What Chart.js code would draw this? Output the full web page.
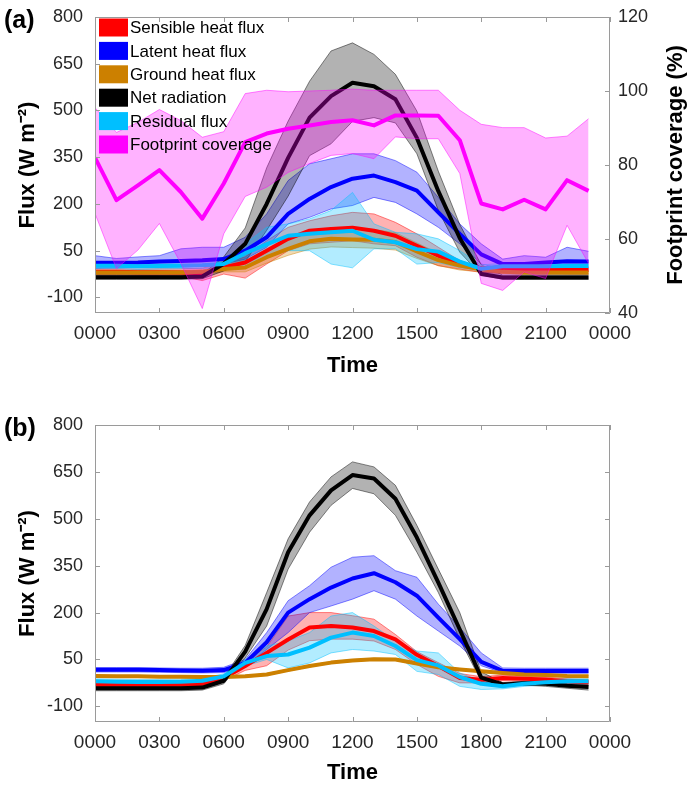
<!DOCTYPE html>
<html>
<head>
<meta charset="utf-8">
<script src="https://cdn.jsdelivr.net/npm/chart.js@4.4.1/dist/chart.umd.min.js"></script>
<style>
  body { margin: 0; background: #fff; }
  #wrap { position: relative; width: 689px; height: 786px; font-family: Arial, "Liberation Sans", sans-serif; }
  canvas { position: absolute; left: 0; }
  #chartA { top: 0; }
  #chartB { top: 400px; }
  .tag { position: absolute; left: 4px; font-weight: bold; font-size: 25px; line-height: 25px; color: #000; }
</style>
</head>
<body>
<div id="wrap">
  <canvas id="chartA" width="689" height="400"></canvas>
  <canvas id="chartB" width="689" height="386"></canvas>
  <div class="tag" style="top:7px">(a)</div>
  <div class="tag" style="top:415px">(b)</div>
</div>
<script>
// one sample per hour
const hours = [0,1,2,3,4,5,6,7,8,9,10,11,12,13,14,15,16,17,18,19,20,21,22,23];
const timeTicks = [0,3,6,9,12,15,18,21,24];
const timeLabels = ['0000','0300','0600','0900','1200','1500','1800','2100','0000'];
const fluxTicks = [-100,50,200,350,500,650,800];
const coverTicks = [40,60,80,100,120];

const seriesNames = ['Sensible heat flux','Latent heat flux','Ground heat flux','Net radiation','Residual flux','Footprint coverage'];
const fluxTitle = 'Flux (W m\u207B\u00B2)';
const coverTitle = 'Footprint coverage (%)';

// (a) mean with lower / upper envelope
const sensA     = [-18,-18,-19,-19,-20,-22,-4,12,50,88,114,120,124,114,98,66,34,7,-6,-9,-10,-10,-12,-12];
const sensALow  = [-28,-28,-29,-30,-32,-46,-25,-38,7,50,72,77,82,72,66,29,2,-9,-20,-22,-22,-22,-24,-24];
const sensAHigh = [-8,-8,-9,-8,-8,-6,10,30,82,125,146,162,173,168,141,104,61,18,-4,2,0,0,-2,-2];

const latA      = [11,11,12,15,17,19,23,50,93,168,216,254,281,291,270,243,173,104,38,7,7,12,16,15];
const latALow   = [-6,-5,-4,-3,-2,0,7,23,61,136,157,184,195,221,205,168,125,72,7,-9,-9,-4,-4,-4];
const latAHigh  = [34,25,30,34,56,61,61,93,168,275,329,345,361,361,339,302,221,136,72,23,34,29,61,48];

const grndA     = [-20,-20,-20,-20,-20,-18,-9,-4,29,56,80,88,86,85,78,48,20,2,-10,-18,-20,-20,-20,-20];
const grndALow  = [-26,-26,-26,-26,-26,-25,-18,-18,10,35,55,62,60,58,52,25,2,-12,-18,-24,-26,-26,-26,-26];
const grndAHigh = [-14,-14,-14,-14,-14,-12,0,10,50,85,110,120,122,118,108,75,42,18,-2,-12,-14,-14,-14,-14];

const netA      = [-35,-35,-35,-35,-35,-33,8,72,200,348,477,546,589,578,536,412,241,90,-25,-36,-36,-36,-36,-36];
const netALow   = [-42,-42,-42,-42,-42,-40,-15,15,115,225,355,393,465,477,460,361,179,45,-28,-42,-42,-42,-42,-42];
const netAHigh  = [-28,-28,-28,-28,-28,-25,30,123,316,466,594,691,717,680,616,498,305,134,5,-28,-28,-28,-28,-28];

const resA      = [2,2,0,1,2,3,7,42,70,98,104,109,114,85,77,55,47,15,-8,0,0,0,1,1];
const resALow   = [-8,-8,-10,-9,-8,-7,-4,-4,29,50,50,7,-5,56,56,7,12,-4,-15,-10,-10,-10,-9,-9];
const resAHigh  = [12,12,10,11,12,13,20,72,125,136,152,179,237,136,109,104,88,50,4,10,10,10,11,11];

const coverA     = [82,70.5,74.5,78.6,72.7,65.5,75,86.2,88.5,89.8,90.7,91.6,92.1,90.7,93.4,93.4,93.3,86.7,69.6,68,70.6,68,75.9,73];
const coverALow  = [66.9,52,57,64.2,53.4,41.2,61.4,71.5,74,78,80.4,82.6,83.1,81.7,87.6,87.1,87.1,77.7,48,46.1,51.1,49.3,63.7,53.4];
const coverAHigh = [95.5,88.8,91.5,95,92,87.5,89,99.3,100.2,99.8,100,100.2,100.5,100.2,100.2,100.2,100.2,94.8,91,90.1,90.1,87.3,87.8,92.5];

// (b)
const sensB     = [-30,-30,-30,-30,-30,-28,-9,29,71,114,152,157,152,141,114,65,29,-9,-15,-9,-12,-14,-20,-23];
const sensBLow  = [-38,-38,-38,-38,-38,-36,-18,15,30,80,110,115,115,109,82,34,-4,-25,-25,-18,-20,-22,-28,-31];
const sensBHigh = [-22,-22,-22,-22,-22,-20,0,45,90,189,200,200,190,179,130,75,40,5,-5,0,-4,-6,-12,-15];

const latB      = [17,17,17,16,15,14,16,39,105,200,243,280,309,326,297,254,184,115,42,14,13,13,13,13];
const latBLow   = [10,10,10,9,8,7,8,30,82,136,200,221,243,270,243,189,141,93,30,7,6,6,6,6];
const latBHigh  = [24,24,24,23,22,22,25,50,136,238,286,345,377,382,334,313,227,152,71,23,22,22,22,22];

const grndB     = [-3,-4,-4,-5,-5,-6,-6,-4,2,16,29,40,47,51,50,37,25,18,12,7,2,0,-3,-4];
const grndBLow  = [-6,-7,-7,-8,-8,-9,-9,-7,-1,13,26,37,44,48,47,34,22,15,9,4,-1,-3,-6,-7];
const grndBHigh = [0,-1,-1,-2,-2,-3,-3,-1,5,19,32,43,50,54,53,40,28,21,15,10,5,3,0,-1];

const netB      = [-42,-42,-42,-42,-42,-40,-18,75,211,393,511,591,640,629,564,440,296,146,-8,-30,-26,-28,-34,-38];
const netBLow   = [-50,-50,-50,-50,-50,-48,-28,55,157,339,457,543,597,580,511,393,264,114,-20,-36,-32,-36,-42,-48];
const netBHigh  = [-35,-35,-35,-35,-35,-32,-8,95,264,436,554,634,682,666,607,479,339,200,10,-24,-20,-22,-26,-28];

const resB      = [-20,-21,-22,-22,-21,-18,-4,39,61,66,88,120,136,125,93,48,31,-6,-28,-36,-28,-23,-20,-20];
const resBLow   = [-28,-29,-30,-30,-29,-26,-12,29,50,23,39,71,82,77,66,12,2,-36,-46,-44,-36,-31,-28,-28];
const resBHigh  = [-12,-13,-14,-14,-13,-10,4,50,93,109,136,189,200,157,109,77,71,7,-20,-28,-20,-15,-12,-12];

const RED = [255,0,0], BLUE = [0,0,255], ORANGE = [204,128,0], BLACK = [0,0,0], CYAN = [0,191,255], MAGENTA = [255,0,255];
const FONT = 'Arial, "Liberation Sans", Helvetica, sans-serif';
const TICK_COLOR = '#262626';
const BOX_COLOR = '#9a9a9a';

Chart.defaults.font.family = FONT;

const rgba = (c, a) => `rgba(${c[0]},${c[1]},${c[2]},${a})`;
const pts = arr => arr.map((v, i) => ({x: hours[i], y: v}));

// envelopes go under every mean line; "layer" lifts a whole group
// (right-axis series) above the rest. Lower "order" is drawn later.
let bandOrder = 0, lineOrder = -100;
function series(name, mean, low, high, col, axis, layer = 0) {
  const edge = {borderColor: rgba(col, 0.6), borderWidth: 0.8, pointRadius: 0, tension: 0, yAxisID: axis, fill: false};
  return [
    Object.assign({}, edge, {data: pts(low), order: layer + bandOrder--}),
    Object.assign({}, edge, {data: pts(high), fill: '-1', backgroundColor: rgba(col, 0.3), order: layer + bandOrder--}),
    {label: name, data: pts(mean), borderColor: rgba(col, 1), borderWidth: 4, borderJoinStyle: 'round',
     pointRadius: 0, tension: 0, yAxisID: axis, fill: false, order: layer + lineOrder--}
  ];
}

const setTicks = list => scale => { scale.ticks = list.map(v => ({value: v})); };

// box round the plot with short inward ticks on every side
const frame = {
  id: 'frame',
  afterDatasetsDraw(chart) {
    const {ctx, chartArea: a, scales} = chart;
    const len = 5;
    const right = scales.y1 || scales.y;
    ctx.save();
    ctx.strokeStyle = BOX_COLOR;
    ctx.lineWidth = 1;
    ctx.beginPath();
    scales.x.ticks.forEach(t => {
      const px = Math.round(scales.x.getPixelForValue(t.value)) + 0.5;
      ctx.moveTo(px, a.top); ctx.lineTo(px, a.top + len);
      ctx.moveTo(px, a.bottom); ctx.lineTo(px, a.bottom - len);
    });
    scales.y.ticks.forEach(t => {
      const py = Math.round(scales.y.getPixelForValue(t.value)) + 0.5;
      ctx.moveTo(a.left, py); ctx.lineTo(a.left + len, py);
    });
    right.ticks.forEach(t => {
      const py = Math.round(right.getPixelForValue(t.value)) + 0.5;
      ctx.moveTo(a.right, py); ctx.lineTo(a.right - len, py);
    });
    ctx.rect(a.left + 0.5, a.top + 0.5, a.right - a.left - 1, a.bottom - a.top - 1);
    ctx.stroke();
    ctx.restore();
  }
};

// colour patches + names in the upper left corner of the plot
const patchLegend = {
  id: 'patchLegend',
  afterDatasetsDraw(chart) {
    const {ctx, chartArea: a} = chart;
    const items = chart.data.datasets.filter(d => d.label);
    ctx.save();
    ctx.font = '17px ' + FONT;
    ctx.textBaseline = 'middle';
    items.forEach((d, i) => {
      const y = a.top + 10.5 + i * 23.4;
      ctx.fillStyle = d.borderColor;
      ctx.fillRect(a.left + 4, y - 9, 29, 18);
      ctx.fillStyle = '#000';
      ctx.fillText(d.label, a.left + 35, y + 1);
    });
    ctx.restore();
  }
};

// right axis title reads bottom-to-top
const rightTitle = {
  id: 'rightTitle',
  afterDraw(chart) {
    const {ctx, chartArea: a} = chart;
    ctx.save();
    ctx.translate(a.right + 66, (a.top + a.bottom) / 2);
    ctx.rotate(-Math.PI / 2);
    ctx.font = 'bold 22px ' + FONT;
    ctx.textAlign = 'center';
    ctx.textBaseline = 'middle';
    ctx.fillStyle = '#000';
    ctx.fillText(coverTitle, 0, 0);
    ctx.restore();
  }
};

// fixed axis sizes so the plot box lands where it should
const fixWidth = w => s => { s.width = w; s.paddingTop = 0; s.paddingBottom = 0; };
const fixHeight = h => s => { s.height = h; s.paddingLeft = 0; s.paddingRight = 0; };

function xScale(axisHeight, titlePad) {
  return {
    type: 'linear', min: 0, max: 24,
    afterBuildTicks: setTicks(timeTicks),
    afterFit: fixHeight(axisHeight),
    ticks: {callback: (v, i) => timeLabels[i], font: {size: 19}, color: TICK_COLOR, padding: 9, maxRotation: 0, autoSkip: false},
    grid: {display: false, drawTicks: false},
    border: {display: false},
    title: {display: true, text: 'Time', color: '#000', font: {size: 22, weight: 'bold'}, padding: {top: 0, bottom: titlePad}}
  };
}

function fluxScale() {
  return {
    type: 'linear', position: 'left', min: -150, max: 800,
    afterBuildTicks: setTicks(fluxTicks),
    afterFit: fixWidth(95),
    ticks: {font: {size: 18}, color: TICK_COLOR, padding: 12},
    grid: {display: false, drawTicks: false},
    border: {display: false},
    title: {display: true, text: fluxTitle, color: '#000', font: {size: 22, weight: 'bold'}, padding: {top: 15, bottom: 0}}
  };
}

const baseOptions = {
  responsive: false,
  animation: false,
  devicePixelRatio: 1,
  plugins: {legend: {display: false}, tooltip: {enabled: false}}
};

// panel (a)
bandOrder = 0; lineOrder = -100;
const dataA = [].concat(
  series(seriesNames[0], sensA, sensALow, sensAHigh, RED, 'y'),
  series(seriesNames[1], latA, latALow, latAHigh, BLUE, 'y'),
  series(seriesNames[2], grndA, grndALow, grndAHigh, ORANGE, 'y'),
  series(seriesNames[3], netA, netALow, netAHigh, BLACK, 'y'),
  series(seriesNames[4], resA, resALow, resAHigh, CYAN, 'y'),
  series(seriesNames[5], coverA, coverALow, coverAHigh, MAGENTA, 'y1', -1000)
);

new Chart(document.getElementById('chartA'), {
  type: 'line',
  data: {datasets: dataA},
  options: Object.assign({}, baseOptions, {
    layout: {padding: {top: 17, left: 0, right: 0, bottom: 0}},
    scales: {
      x: xScale(87, 21),
      y: fluxScale(),
      y1: {
        type: 'linear', position: 'right', min: 40, max: 120,
        afterBuildTicks: setTicks(coverTicks),
        afterFit: fixWidth(79),
        ticks: {font: {size: 18}, color: TICK_COLOR, padding: 8},
        grid: {display: false, drawTicks: false},
        border: {display: false}
      }
    }
  }),
  plugins: [frame, patchLegend, rightTitle]
});

// panel (b)
bandOrder = 0; lineOrder = -100;
const dataB = [].concat(
  series(seriesNames[0], sensB, sensBLow, sensBHigh, RED, 'y'),
  series(seriesNames[1], latB, latBLow, latBHigh, BLUE, 'y'),
  series(seriesNames[2], grndB, grndBLow, grndBHigh, ORANGE, 'y'),
  series(seriesNames[3], netB, netBLow, netBHigh, BLACK, 'y'),
  series(seriesNames[4], resB, resBLow, resBHigh, CYAN, 'y')
);

new Chart(document.getElementById('chartB'), {
  type: 'line',
  data: {datasets: dataB},
  options: Object.assign({}, baseOptions, {
    layout: {padding: {top: 25, left: 0, right: 79, bottom: 0}},
    scales: {
      x: xScale(64, 0),
      y: fluxScale()
    }
  }),
  plugins: [frame]
});
</script>
</body>
</html>
